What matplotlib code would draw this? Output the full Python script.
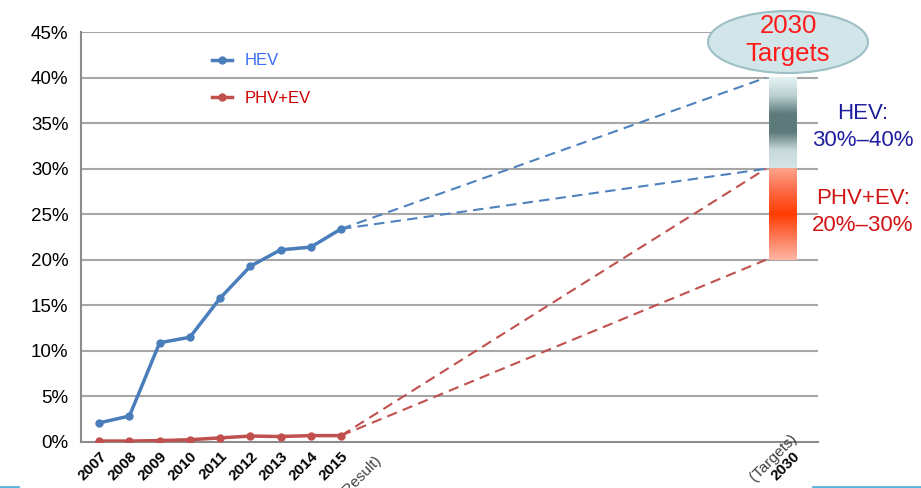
import numpy as np
import matplotlib.pyplot as plt
from matplotlib.patches import Ellipse
from matplotlib.colors import LinearSegmentedColormap

plt.rcParams['font.family'] = ['Liberation Sans', 'DejaVu Sans', 'Noto Sans CJK JP']

years = ['2007', '2008', '2009', '2010', '2011', '2012', '2013', '2014', '2015']
hev_share = [2.1, 2.85, 10.9, 11.5, 15.8, 19.3, 21.1, 21.4, 23.4]
phv_ev_share = [0.1, 0.1, 0.15, 0.25, 0.45, 0.65, 0.6, 0.7, 0.7]
target_year = '2030'
hev_target = (30, 40)
phv_ev_target = (20, 30)

x_years = np.arange(len(years))
x_target = 22.05       # where the projections meet the target bars
x_target_tick = 22.95  # 2030 category label

fig = plt.figure(figsize=(9.21, 4.88), dpi=100)
ax = fig.add_axes([0.088, 0.0943, 0.8, 0.8397])

for v in range(5, 50, 5):
    ax.axhline(v, color='#a6a6a6', lw=1.5, zorder=1)

hev_color = '#4a7ebb'
phv_color = '#c0504d'
ax.plot(x_years, hev_share, color=hev_color, lw=2.5, marker='o', ms=5, label='HEV', zorder=4)
ax.plot(x_years, phv_ev_share, color=phv_color, lw=2.5, marker='o', ms=5, label='PHV+EV', zorder=4)

# dashed projections from 2015 result to the 2030 target ranges
for t in hev_target:
    ax.plot([x_years[-1], x_target], [hev_share[-1], t], color='#4f81bd', lw=1.5,
            ls=(0, (5, 3)), zorder=3)
for t in phv_ev_target:
    ax.plot([x_years[-1], x_target], [phv_ev_share[-1], t], color=phv_color, lw=1.5,
            ls=(0, (5, 3)), zorder=3)

# gradient target bars
hev_cmap = LinearSegmentedColormap.from_list(
    'hev', ['#d6e5e7', '#c9dadc', '#5d7a7a', '#5d7a7a', '#bcd0d2', '#e6f3f3'])
phv_cmap = LinearSegmentedColormap.from_list(
    'phv', ['#fdb6a4', '#fd7a58', '#ff3c00', '#fd6a45', '#fda48d'])
grad = np.linspace(0, 1, 200).reshape(-1, 1)
bar_x0, bar_x1 = 22.15, 23.05
ax.imshow(grad, cmap=hev_cmap, aspect='auto', origin='lower',
          extent=[bar_x0, bar_x1, hev_target[0], hev_target[1]], zorder=2)
ax.imshow(grad, cmap=phv_cmap, aspect='auto', origin='lower',
          extent=[bar_x0, bar_x1, phv_ev_target[0], phv_ev_target[1]], zorder=2)

ax.set_xlim(-0.6, 23.77)
ax.set_ylim(0, 45)
ax.set_yticks(range(0, 50, 5))
ax.set_yticklabels([f'{v}%' for v in range(0, 50, 5)], fontsize=13.5)
ax.set_xticks(list(x_years) + [x_target_tick])
ax.set_xticklabels(years + [target_year], rotation=45, ha='right', va='top',
                   rotation_mode='anchor', fontsize=11, fontweight='bold')
ax.tick_params(axis='y', length=0, pad=9)
ax.tick_params(axis='x', length=0, pad=5)

for side in ['top', 'right']:
    ax.spines[side].set_visible(False)
for side in ['left', 'bottom']:
    ax.spines[side].set_color('#8c8c8c')
    ax.spines[side].set_linewidth(1.5)

ax.text(x_years[-1] + 1.1, -1.2, '(Result)', rotation=45, ha='right', va='top',
        rotation_mode='anchor', fontsize=11, color='#404040')
ax.text(x_target_tick - 0.1, 1.2, '(Targets)', rotation=45, ha='right', va='top',
        rotation_mode='anchor', fontsize=11, color='#404040')

leg = ax.legend(loc='upper left', bbox_to_anchor=(0.157, 0.985), frameon=False,
                handlelength=1.2, labelspacing=1.35, fontsize=12,
                labelcolor=['#3b6ef5', '#cc0000'], handletextpad=0.8)

# 2030 badge
badge = Ellipse((788 / 921, 1 - 42 / 488), 160 / 921, 62 / 488, transform=fig.transFigure,
                facecolor='#d2e6ea', edgecolor='#9cbfc4', lw=1.5, zorder=5)
fig.patches.append(badge)
fig.text(788 / 921, 1 - 40 / 488, '2030\nTargets', ha='center', va='center',
         fontsize=18.5, color='#ff1a1a', linespacing=1.2, zorder=6)

fig.text(863 / 921, 1 - 127 / 488, 'HEV:\n30%–40%', ha='center', va='center',
         fontsize=16, color='#1f1f9e', linespacing=1.4)
fig.text(863 / 921, 1 - 212 / 488, 'PHV+EV:\n20%–30%', ha='center', va='center',
         fontsize=16, color='#d01414', linespacing=1.4)

# slide footer rule
fig.add_artist(plt.Line2D([0, 18 / 921], [0.003, 0.003], color='#5ab4e0', lw=2,
                          transform=fig.transFigure))
fig.add_artist(plt.Line2D([813 / 921, 1], [0.003, 0.003], color='#5ab4e0', lw=2,
                          transform=fig.transFigure))

fig.savefig('out.png', dpi=100)
